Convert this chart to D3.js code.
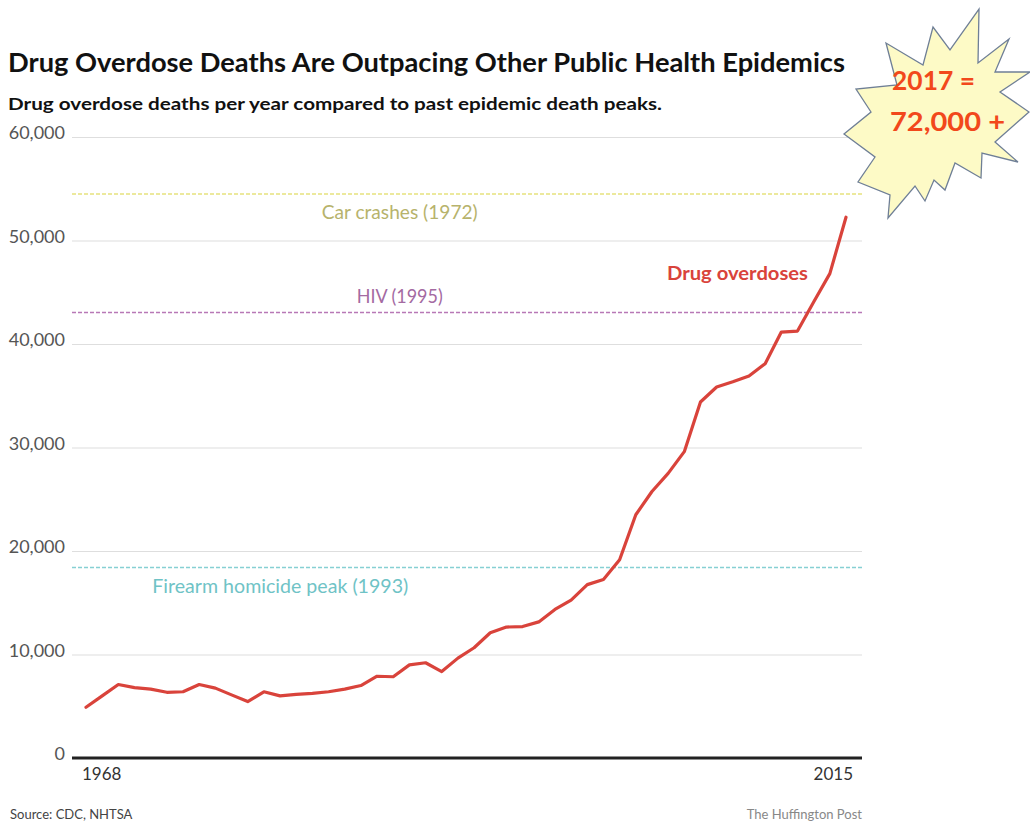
<!DOCTYPE html>
<html>
<head>
<meta charset="utf-8">
<script src="https://cdn.jsdelivr.net/npm/d3@7"></script>
<style>
  html, body { margin: 0; padding: 0; background: #fff; }
  svg { display: block; }
</style>
</head>
<body>
<svg id="chart" width="1030" height="822"></svg>
<script>
// ---- data ----
const startYear = 1968;
const endYear = 2015;
const overdoseDeaths = [
  4900, 6000, 7100, 6800, 6650, 6350, 6400, 7100, 6750, 6100,
  5450, 6400, 6000, 6150, 6250, 6400, 6650, 7000, 7900, 7850,
  9000, 9200, 8350, 9650, 10650, 12100, 12650, 12700, 13150, 14350,
  15250, 16750, 17250, 19150, 23500, 25750, 27500, 29600, 34400, 35850,
  36350, 36900, 38100, 41150, 41250, 44050, 46800, 52250
];
const yTicks = [0, 10000, 20000, 30000, 40000, 50000, 60000];
const xTickLabels = ["1968", "2015"];
const peakNames = ["Car crashes (1972)", "HIV (1995)", "Firearm homicide peak (1993)"];
const peakValues = [54500, 43050, 18400];
const peakLineColors = ["#e6e27e", "#b878b6", "#86d0d3"];
const peakTextColors = ["#b7b36c", "#a46aa2", "#6fc3c6"];
const title = "Drug Overdose Deaths Are Outpacing Other Public Health Epidemics";
const subtitle = "Drug overdose deaths per year compared to past epidemic death peaks.";
const source = "Source: CDC, NHTSA";
const credit = "The Huffington Post";
const calloutLines = ["2017 =", "72,000 +"];
// starburst outline (annotation shape, page coordinates)
const burst = [[979,9],[978,63],[1009,39],[995,72],[1030,72],[1000,92],[1029,112],[995,142],
  [1018,162],[982,153],[981,178],[955,163],[945,190],[934,180],[925,201],[915,186],[888,218],
  [890,195],[858,182],[875,157],[844,134],[871,112],[856,89],[897,85],[886,43],[923,65],
  [933,27],[950,50]];

const years = d3.range(startYear, endYear + 1);
const series = years.map((y, i) => ({ year: y, value: overdoseDeaths[i] }));

const svg = d3.select("#chart");
const font = "Lato, 'Open Sans', sans-serif";

const x = d3.scaleLinear().domain([startYear, endYear]).range([86, 846]);
const y = d3.scaleLinear().domain([0, 60000]).range([758, 137]);
const gridX0 = 72, gridX1 = 862;

// title & subtitle
svg.append("text").attr("x", 8).attr("y", 72).text(title)
  .attr("font-family", font).attr("font-weight", 700).attr("font-size", 26)
  .attr("fill", "#111").attr("textLength", 837).attr("lengthAdjust", "spacingAndGlyphs");
svg.append("text").attr("x", 8).attr("y", 110).text(subtitle)
  .attr("font-family", font).attr("font-weight", 700).attr("font-size", 17)
  .attr("fill", "#111").attr("textLength", 654).attr("lengthAdjust", "spacingAndGlyphs");

// gridlines
const yAxis = d3.axisLeft(y).tickValues(yTicks).tickSize(-(gridX1 - gridX0))
  .tickFormat(d3.format(","));
const gy = svg.append("g").attr("transform", `translate(${gridX0},0)`).call(yAxis);
gy.select(".domain").remove();
gy.selectAll(".tick line").attr("stroke", "#dedede").attr("stroke-width", 1.2);
gy.selectAll(".tick text").attr("x", -7).attr("dy", "0.1em")
  .attr("font-family", font).attr("font-size", 18).attr("fill", "#555");
gy.selectAll(".tick").filter(d => d === 0).select("line").remove();

// peak reference lines
peakValues.forEach((v, i) => {
  svg.append("line").attr("x1", gridX0).attr("x2", gridX1)
    .attr("y1", y(v)).attr("y2", y(v))
    .attr("stroke", peakLineColors[i]).attr("stroke-width", 1.6)
    .attr("stroke-dasharray", "4,2");
});
// peak labels
const peakLabelPos = [
  { xv: 1987.4, dy: 25, anchor: "middle", w: 156 },
  { xv: 1987.4, dy: -9, anchor: "middle", w: 86 },
  { xv: 1972.1, dy: 25, anchor: "start", w: 256 }
];
peakValues.forEach((v, i) => {
  svg.append("text").attr("x", x(peakLabelPos[i].xv) - (peakLabelPos[i].anchor === "middle" ? peakLabelPos[i].w / 2 : 0))
    .attr("y", y(v) + peakLabelPos[i].dy)
    .attr("font-family", font).attr("font-size", 19).attr("fill", peakTextColors[i])
    .attr("textLength", peakLabelPos[i].w).attr("lengthAdjust", "spacingAndGlyphs")
    .text(peakNames[i]);
});

// zero axis line
svg.append("line").attr("x1", gridX0).attr("x2", gridX1)
  .attr("y1", y(0)).attr("y2", y(0)).attr("stroke", "#222").attr("stroke-width", 3);

// x labels
svg.append("text").attr("x", x(startYear) - 4).attr("y", 780).text(xTickLabels[0])
  .attr("font-family", font).attr("font-size", 17).attr("fill", "#333");
svg.append("text").attr("x", x(endYear) + 7).attr("y", 780).attr("text-anchor", "end").text(xTickLabels[1])
  .attr("font-family", font).attr("font-size", 17).attr("fill", "#333");

// drug overdose line
const line = d3.line().x(d => x(d.year)).y(d => y(d.value));
svg.append("path").datum(series).attr("d", line)
  .attr("fill", "none").attr("stroke", "#d9433b").attr("stroke-width", 3.2)
  .attr("stroke-linejoin", "round").attr("stroke-linecap", "round");
svg.append("text").attr("x", 667).attr("y", 280)
  .attr("font-family", font).attr("font-weight", 700).attr("font-size", 19)
  .attr("textLength", 141).attr("lengthAdjust", "spacingAndGlyphs")
  .attr("fill", "#d9433b").text("Drug overdoses");

// footer
svg.append("text").attr("x", 10).attr("y", 819).text(source)
  .attr("font-family", font).attr("font-size", 13).attr("fill", "#444");
svg.append("text").attr("x", 862).attr("y", 819).attr("text-anchor", "end").text(credit)
  .attr("font-family", font).attr("font-size", 13).attr("fill", "#888");

// starburst callout
svg.append("path").attr("d", "M" + burst.map(p => p.join(",")).join("L") + "Z")
  .attr("fill", "#fdfac6").attr("stroke", "#6f7f96").attr("stroke-width", 1.3)
  .attr("stroke-linejoin", "miter");
svg.append("text").attr("x", 892).attr("y", 90).text(calloutLines[0])
  .attr("font-family", font).attr("font-weight", 700).attr("font-size", 27).attr("fill", "#f2481b")
  .attr("textLength", 83).attr("lengthAdjust", "spacingAndGlyphs");
svg.append("text").attr("x", 890).attr("y", 131).text(calloutLines[1])
  .attr("font-family", font).attr("font-weight", 700).attr("font-size", 27).attr("fill", "#f2481b")
  .attr("textLength", 115).attr("lengthAdjust", "spacingAndGlyphs");
</script>
</body>
</html>
